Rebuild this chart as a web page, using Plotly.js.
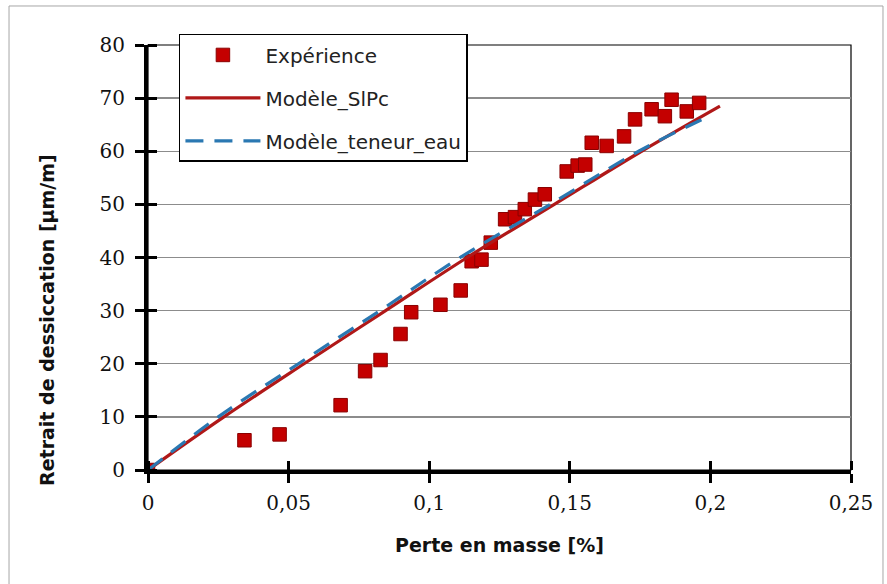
<!DOCTYPE html>
<html>
<head>
<meta charset="utf-8">
<script src="https://cdn.plot.ly/plotly-3.0.1.min.js"></script>
<style>
  html, body { margin: 0; padding: 0; background: #ffffff; }
  #chart { width: 887px; height: 584px; }
</style>
</head>
<body>
<div id="chart"></div>
<script>
// ---- Data ----
const expX = [0, 0.0343, 0.0468, 0.0685, 0.0772, 0.0827, 0.0898, 0.0936, 0.1040, 0.1112,
              0.1151, 0.1186, 0.1219, 0.1270, 0.1305, 0.1340, 0.1376, 0.1411, 0.1489, 0.1528,
              0.1555, 0.1578, 0.1631, 0.1693, 0.1732, 0.1791, 0.1838, 0.1862, 0.1916, 0.1960];
const expY = [0, 5.6, 6.7, 12.2, 18.6, 20.7, 25.6, 29.7, 31.1, 33.8,
              39.3, 39.6, 42.8, 47.2, 47.6, 49.1, 50.9, 51.9, 56.2, 57.3,
              57.5, 61.6, 61.0, 62.8, 66.0, 67.9, 66.6, 69.7, 67.5, 69.1];

const slpcX = [0, 0.0270, 0.0555, 0.0845, 0.1135, 0.1445, 0.1755, 0.2034];
const slpcY = [0, 10, 20, 30, 40, 50, 60, 68.5];

const eauX = [0, 0.0250, 0.0535, 0.0825, 0.1110, 0.1430, 0.1745, 0.1987];
const eauY = [0, 10, 20, 30, 40, 50, 60, 66.4];

const seriesNames = ['Expérience', 'Modèle_SlPc', 'Modèle_teneur_eau'];

const xTickVals = [0, 0.05, 0.1, 0.15, 0.2, 0.25];
const xTickText = ['0', '0,05', '0,1', '0,15', '0,2', '0,25'];
const yTickVals = [0, 10, 20, 30, 40, 50, 60, 70, 80];
const yTickText = ['0', '10', '20', '30', '40', '50', '60', '70', '80'];

const xTitle = 'Perte en masse [%]';
const yTitle = 'Retrait de dessiccation [µm/m]';

// inner half of the "cross" tick marks: minor ticks at the same values (nudged so they are not merged)
const xInnerTicks = xTickVals.map(v => v + 1e-9);
const yInnerTicks = yTickVals.map(v => v + 1e-7);

// ---- Traces ----
const traces = [
  {
    x: expX, y: expY, name: seriesNames[0], type: 'scatter', mode: 'markers',
    marker: { symbol: 'square', size: 13.5, color: '#c40000', line: { color: '#8a0000', width: 1 } },
    legendgroup: 'a'
  },
  {
    x: slpcX, y: slpcY, name: seriesNames[1], type: 'scatter', mode: 'lines',
    line: { color: '#b01818', width: 3.2, shape: 'spline', smoothing: 1 },
    legendgroup: 'b'
  },
  {
    x: eauX, y: eauY, name: seriesNames[2], type: 'scatter', mode: 'lines',
    line: { color: '#2a78b2', width: 3.2, dash: '18px,11px', shape: 'spline', smoothing: 1 },
    legendgroup: 'c'
  }
];

const tickFont = { family: 'DejaVu Serif', size: 20, color: '#111111' };
const titleFont = { family: 'DejaVu Sans', size: 19, color: '#111111', weight: 'bold' };

const layout = {
  width: 887, height: 584,
  margin: { l: 148, r: 36, t: 45, b: 114, pad: 0 },
  paper_bgcolor: '#ffffff', plot_bgcolor: '#ffffff',
  showlegend: true,
  xaxis: {
    range: [0, 0.25], tickmode: 'array', tickvals: xTickVals, ticktext: xTickText,
    showgrid: false, zeroline: false,
    showline: true, linecolor: '#000000', linewidth: 4,
    ticks: 'outside', ticklen: 9, tickwidth: 3, tickcolor: '#000000',
    minor: { tickmode: 'array', tickvals: xInnerTicks, ticks: 'inside', ticklen: 9,
             tickwidth: 3, tickcolor: '#000000', showgrid: false },
    tickfont: tickFont, ticklabelstandoff: 3, fixedrange: true
  },
  yaxis: {
    range: [0, 80], tickmode: 'array', tickvals: yTickVals, ticktext: yTickText,
    showgrid: true, gridcolor: '#8c8c8c', gridwidth: 1.3, zeroline: false,
    showline: true, linecolor: '#000000', linewidth: 4,
    ticks: 'outside', ticklen: 9, tickwidth: 3, tickcolor: '#000000',
    minor: { tickmode: 'array', tickvals: yInnerTicks, ticks: 'inside', ticklen: 9,
             tickwidth: 3, tickcolor: '#000000', showgrid: false },
    tickfont: tickFont, ticklabelstandoff: 6, fixedrange: true
  },
  legend: {
    x: 0.044, y: 1.026, xanchor: 'left', yanchor: 'top',
    bgcolor: '#ffffff', bordercolor: '#000000', borderwidth: 1.5,
    font: { family: 'DejaVu Sans', size: 20, color: '#222222' },
    traceorder: 'grouped', tracegroupgap: 14, itemwidth: 75
  },
  shapes: [
    { type: 'rect', xref: 'paper', yref: 'paper', x0: 0, x1: 1, y0: 0, y1: 1,
      line: { color: '#000000', width: 1.2 }, fillcolor: 'rgba(0,0,0,0)', layer: 'below' },
    { type: 'rect', xref: 'paper', yref: 'paper', x0: -0.1977, x1: 1.0455, y0: -0.28, y1: 1.0918,
      line: { color: '#a6a6a6', width: 1 }, fillcolor: 'rgba(0,0,0,0)', layer: 'below' }
  ],
  annotations: [
    { text: xTitle, xref: 'paper', yref: 'paper', x: 0.5, y: -0.1765,
      xanchor: 'center', yanchor: 'middle', showarrow: false, font: titleFont },
    { text: yTitle, xref: 'paper', yref: 'paper', x: -0.1437, y: 0.353,
      xanchor: 'center', yanchor: 'middle', textangle: -90, showarrow: false, font: titleFont }
  ]
};

Plotly.newPlot('chart', traces, layout, { staticPlot: true, displayModeBar: false });
</script>
</body>
</html>
